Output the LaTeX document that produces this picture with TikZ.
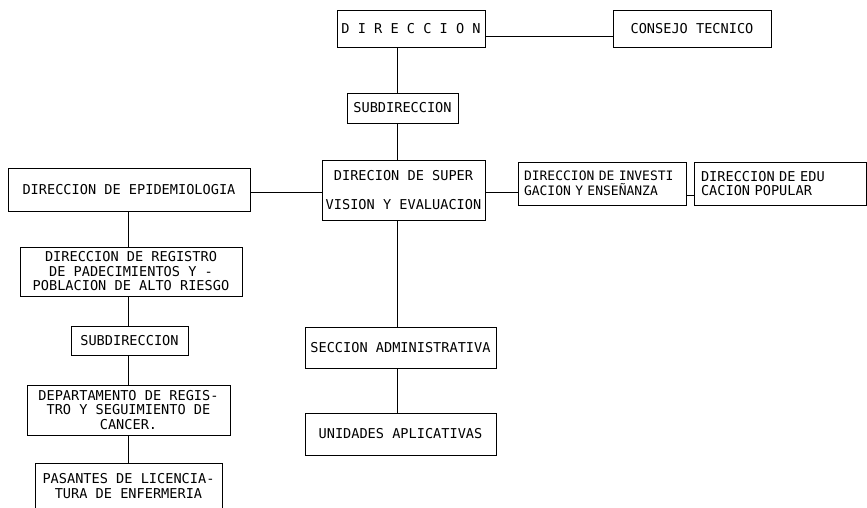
\documentclass[tikz,border=0pt]{standalone}
\usepackage{fontspec}
\newfontfamily\orgfont{DejaVu Sans Mono}
\begin{document}
\begin{tikzpicture}[x=1pt,y=-1pt,
  box/.style={draw, line width=0.8pt, inner sep=0pt, align=center,
    font=\orgfont\fontsize{13.6}{14.5}\selectfont},
  lbox/.style={box, align=left},
  conn/.style={line width=0.8pt}]
\useasboundingbox (0,0) rectangle (867,507);
\clip (0,0) rectangle (867,507);
% top
\node[box, minimum width=148pt, minimum height=37pt] (dir) at (411,28.5) {D I R E C C I O N};
\node[box, minimum width=158pt, minimum height=37pt] (cons) at (692,28.5) {CONSEJO TECNICO};
\node[box, minimum width=111pt, minimum height=30pt] (sub1) at (402.5,108) {SUBDIRECCION};
\node[box, minimum width=163pt, minimum height=60pt] (sup) at (403.5,190) {DIRECION DE SUPER\\[15pt]VISION Y EVALUACION};
\node[box, minimum width=242pt, minimum height=43pt] (epi) at (129,189.5) {DIRECCION DE EPIDEMIOLOGIA};
\node[lbox, font=\orgfont\fontsize{13}{14.5}\selectfont, text width=156pt, minimum width=168pt, minimum height=43pt] (inv) at (602,183.5) {DIRECCION DE INVESTI\\GACION Y ENSEÑANZA};
\node[lbox, text width=158pt, minimum width=172pt, minimum height=43pt] (edu) at (780,183.5) {DIRECCION DE EDU\\CACION POPULAR};
\node[box, minimum width=191pt, minimum height=41pt] (secc) at (400.5,347.5) {SECCION ADMINISTRATIVA};
\node[box, minimum width=191pt, minimum height=42pt] (unid) at (400.5,434) {UNIDADES APLICATIVAS};
% left column
\node[box, minimum width=222pt, minimum height=49pt] (reg) at (131,271.5) {DIRECCION DE REGISTRO\\DE PADECIMIENTOS Y -\\POBLACION DE ALTO RIESGO};
\node[box, minimum width=117pt, minimum height=29pt] (sub2) at (129.5,340.5) {SUBDIRECCION};
\node[box, minimum width=203pt, minimum height=50pt] (dep) at (128.5,410) {DEPARTAMENTO DE REGIS-\\TRO Y SEGUIMIENTO DE\\CANCER.};
\node[box, minimum width=187pt, minimum height=46pt] (pas) at (128.5,486) {PASANTES DE LICENCIA-\\TURA DE ENFERMERIA};
% connectors
\draw[conn] ([yshift=-7.5pt]dir.east) -- ([yshift=-7.5pt]cons.west);
\draw[conn] ([xshift=-14pt]dir.south) -- ([xshift=-5.5pt]sub1.north);
\draw[conn] ([xshift=-5.5pt]sub1.south) -- ([xshift=-6.5pt]sup.north);
\draw[conn] ([yshift=-2.5pt]epi.east) -- ([yshift=-2pt]sup.west);
\draw[conn] ([yshift=-2pt]sup.east) -- ([yshift=-8.5pt]inv.west);
\draw[conn] ([yshift=-11.5pt]inv.east) -- ([yshift=-11.5pt]edu.west);
\draw[conn] ([xshift=-6.5pt]sup.south) -- ([xshift=-3.5pt]secc.north);
\draw[conn] ([xshift=-3.5pt]secc.south) -- ([xshift=-3.5pt]unid.north);
\draw[conn] ([xshift=-1pt]epi.south) -- ([xshift=-3pt]reg.north);
\draw[conn] ([xshift=-3pt]reg.south) -- ([xshift=-1.5pt]sub2.north);
\draw[conn] ([xshift=-1.5pt]sub2.south) -- ([xshift=-0.5pt]dep.north);
\draw[conn] ([xshift=-0.5pt]dep.south) -- ([xshift=-0.5pt]pas.north);
\end{tikzpicture}
\end{document}
